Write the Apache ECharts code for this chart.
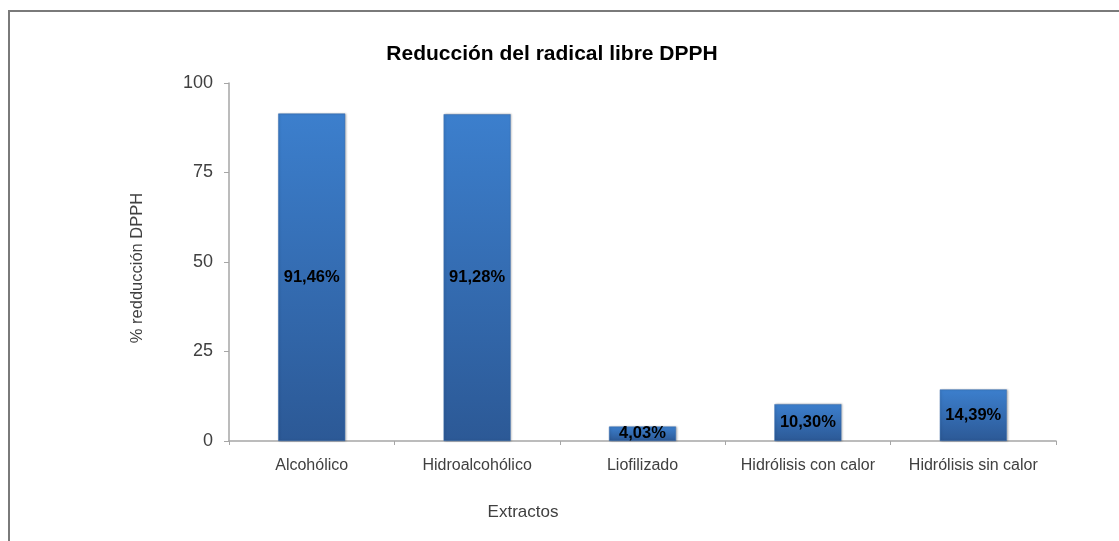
<!DOCTYPE html>
<html>
<head>
<meta charset="utf-8">
<style>
  html, body { margin: 0; padding: 0; background: #ffffff; }
  #chart { width: 1119px; height: 541px; }
</style>
<script src="https://cdn.jsdelivr.net/npm/echarts@6/dist/echarts.min.js"></script>
</head>
<body>
<div id="chart"></div>
<script>
// Extract categories and their DPPH radical reduction (%)
const categories = ['Alcohólico', 'Hidroalcohólico', 'Liofilizado', 'Hidrólisis con calor', 'Hidrólisis sin calor'];
const reduction = [91.46, 91.28, 4.03, 10.30, 14.39];
const yTicks = [0, 25, 50, 75, 100];

const FONT = 'Liberation Sans, Arial, sans-serif';
const chart = echarts.init(document.getElementById('chart'), null, { renderer: 'canvas' });

const barGradient = new echarts.graphic.LinearGradient(0, 0, 0, 1, [
  { offset: 0, color: '#3c7fcd' },
  { offset: 1, color: '#2c5996' }
]);

chart.setOption({
  animation: false,
  backgroundColor: '#ffffff',
  title: {
    text: 'Reducción del radical libre DPPH',
    left: 547,
    top: 39,
    textAlign: 'center',
    textStyle: {
      fontFamily: FONT,
      fontWeight: 'bold',
      fontSize: 21,
      color: '#000000'
    }
  },
  graphic: [
    {
      type: 'rect',
      shape: { x: 9, y: 11, width: 1300, height: 700 },
      style: { fill: 'none', stroke: '#7a7a7a', lineWidth: 2 },
      z: 10
    },
    {
      // x-axis title
      type: 'text',
      x: 523,
      y: 512,
      style: {
        text: 'Extractos',
        fontFamily: FONT,
        fontSize: 17,
        fill: '#404040',
        align: 'center',
        verticalAlign: 'middle'
      }
    },
    {
      // y-axis title
      type: 'text',
      x: 137,
      y: 268,
      rotation: Math.PI / 2,
      style: {
        text: '% redducción DPPH',
        fontFamily: FONT,
        fontSize: 16.5,
        fill: '#404040',
        align: 'center',
        verticalAlign: 'middle'
      }
    }
  ],
  grid: { left: 229, right: 63, top: 83, bottom: 100 },
  xAxis: {
    type: 'category',
    data: categories,
    axisLine: { lineStyle: { color: '#a6a6a6', width: 1.5 } },
    axisTick: { show: true, length: 4, inside: false, lineStyle: { color: '#a6a6a6' } },
    axisLabel: {
      interval: 0,
      hideOverlap: false,
      margin: 17,
      fontFamily: FONT,
      fontSize: 16,
      color: '#404040'
    }
  },
  yAxis: {
    type: 'value',
    min: yTicks[0],
    max: yTicks[yTicks.length - 1],
    interval: yTicks[1] - yTicks[0],
    axisLine: { show: true, lineStyle: { color: '#a6a6a6', width: 1.5 } },
    axisTick: { show: true, length: 5, lineStyle: { color: '#a6a6a6' } },
    splitLine: { show: false },
    axisLabel: {
      margin: 16,
      fontFamily: FONT,
      fontSize: 18,
      color: '#404040'
    }
  },
  series: [
    {
      type: 'bar',
      data: reduction,
      barWidth: 67,
      itemStyle: {
        color: barGradient,
        borderColor: '#3a6fb0',
        borderWidth: 0.5,
        shadowColor: 'rgba(0,0,0,0.25)',
        shadowBlur: 2,
        shadowOffsetX: 1,
        shadowOffsetY: 0
      },
      label: {
        show: true,
        position: 'inside',
        formatter: p => p.value.toFixed(2).replace('.', ',') + '%',
        fontFamily: FONT,
        fontWeight: 'bold',
        fontSize: 16.5,
        color: '#000000'
      }
    }
  ]
});
</script>
</body>
</html>
